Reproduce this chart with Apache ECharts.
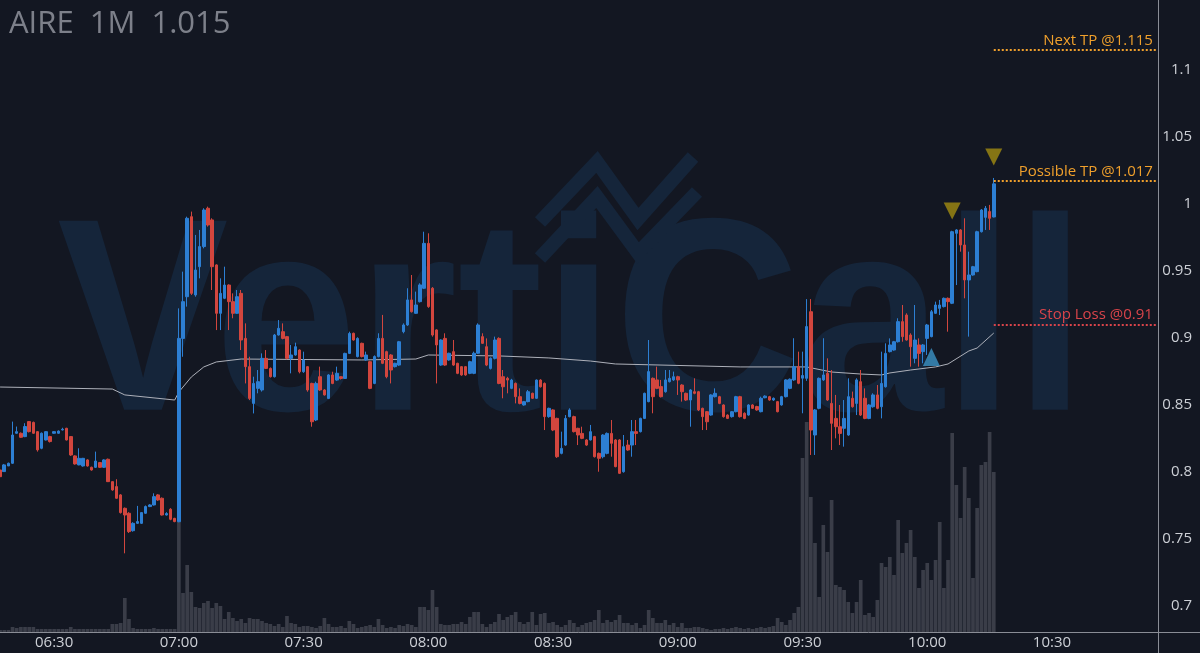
<!DOCTYPE html>
<html><head><meta charset="utf-8">
<script src="https://cdn.jsdelivr.net/npm/echarts@6/dist/echarts.min.js"></script>
<style>html,body{margin:0;padding:0;background:#131722;}#c{width:1200px;height:653px;}</style>
</head><body><div id="c"></div>
<script>
// ---- categories: one per minute, 06:17 .. 10:55
const startMinute = 6 * 60 + 17, endMinute = 10 * 60 + 55;
const categories = [];
for (let m = startMinute; m <= endMinute; m++) {
  categories.push(String(Math.floor(m / 60)).padStart(2, '0') + ':' + String(m % 60).padStart(2, '0'));
}
const priceTicks = [0.7, 0.75, 0.8, 0.85, 0.9, 0.95, 1, 1.05, 1.1];
const title = 'AIRE  1M  1.015';

// ---- candles [open, close, low, high], from 06:17
const candles = [
[.8015,.7965,.7960,.8030],[.8003,.8053,.8000,.8060],[.8045,.8065,.8045,.8070],[.8065,.8276,.8060,.8376],
[.8289,.8301,.8285,.8339],[.8289,.8259,.8255,.8295],[.8264,.8339,.8260,.8364],[.8376,.8301,.8295,.8380],
[.8370,.8289,.8285,.8376],[.8301,.8165,.8152,.8305],[.8177,.8289,.8170,.8295],[.8239,.8301,.8235,.8305],
[.8264,.8227,.8220,.8270],[.8289,.8301,.8285,.8305],[.8289,.8305,.8285,.8310],[.8314,.8319,.8310,.8330],
[.8326,.8239,.8235,.8330],[.8264,.8127,.8120,.8268],[.8120,.8060,.8055,.8125],[.8053,.8102,.8050,.8177],
[.8045,.8102,.8040,.8105],[.8090,.8045,.8040,.8095],[.8035,.8015,.8010,.8040],[.8035,.8082,.8030,.8152],
[.8070,.8035,.8030,.8075],[.8035,.8090,.8030,.8095],[.8095,.7928,.7925,.8100],[.7928,.7866,.7860,.7930],
[.7891,.7804,.7800,.7946],[.7829,.7697,.7690,.7835],[.7729,.7679,.7393,.7735],[.7692,.7555,.7545,.7700],
[.7562,.7617,.7555,.7625],[.7617,.7630,.7612,.7747],[.7617,.7697,.7612,.7700],[.7692,.7742,.7688,.7750],
[.7742,.7754,.7738,.7760],[.7754,.7816,.7750,.7841],[.7829,.7791,.7785,.7835],[.7804,.7679,.7675,.7810],
[.7679,.7690,.7675,.7700],[.7722,.7647,.7640,.7730],[.7654,.7630,.7625,.7658],
// 07:00
[.7629,.8997,.7625,.9221],[.8997,.9271,.8860,.9495],[.9308,.9893,.9234,.9905],[.9905,.9333,.9321,.9943],
[.9321,.9507,.9308,.9769],[.9532,.9682,.9445,.9806],[.9682,.9955,.9669,.9968],[.9968,.9843,.9831,.9980],
[.9881,.9532,.9358,.9893],[.9545,.9184,.9059,.9550],[.9184,.9333,.9059,.9445],[.9296,.9395,.9290,.9532],
[.9395,.9271,.9059,.9400],[.9271,.9184,.9147,.9333],[.9184,.9308,.9180,.9358],[.9333,.8985,.8910,.9358],
[.8997,.8786,.8661,.9109],[.8786,.8549,.8537,.8860],[.8512,.8661,.8437,.8711],[.8624,.8674,.8587,.8761],
[.8612,.8848,.8600,.8885],[.8848,.8773,.8768,.8910],[.8773,.8711,.8705,.8780],[.8711,.9022,.8705,.9030],
[.9022,.9072,.9018,.9134],[.9047,.8997,.8990,.9109],[.9010,.8848,.8840,.9015],[.8848,.8873,.8736,.8948],
[.8873,.8935,.8868,.8965],[.8910,.8748,.8736,.8915],[.8748,.8836,.8740,.8898],[.8786,.8612,.8599,.8790],
[.8661,.8375,.8338,.8666],[.8388,.8661,.8380,.8674],[.8711,.8612,.8605,.8786],[.8612,.8575,.8570,.8618],
[.8549,.8724,.8544,.8730],[.8724,.8661,.8655,.8748],[.8686,.8736,.8680,.8786],[.8711,.8698,.8690,.8715],
[.8698,.8885,.8695,.8890],[.8885,.9034,.8880,.9047],[.9035,.8985,.8980,.9040],[.8861,.8997,.8855,.9005],
[.8960,.8861,.8855,.8965],[.8836,.8873,.8830,.8898],[.8823,.8624,.8618,.8830],[.8661,.8861,.8655,.8870],
[.8861,.8997,.8855,.9035],[.8997,.8811,.8805,.9172],[.8898,.8711,.8699,.8905],[.8873,.8761,.8661,.8880],
[.8786,.8811,.8780,.8815],[.8798,.8972,.8792,.8978],[.9047,.9097,.9035,.9109],[.9097,.9284,.9090,.9371],
[.9284,.9196,.9190,.9470],[.9184,.9246,.9180,.9346],[.9271,.9396,.9265,.9408],[.9371,.9706,.9365,.9793],
[.9706,.9234,.9225,.9781],[.9371,.9022,.9010,.9380],[.9060,.8948,.8661,.9065],[.8798,.8985,.8792,.8990],
[.8997,.8798,.8792,.9035],[.8836,.8886,.8830,.8890],[.8898,.8798,.8792,.8985],[.8811,.8736,.8730,.8815],
[.8786,.8724,.8718,.8790],[.8786,.8724,.8718,.8790],[.8736,.8823,.8730,.8830],[.8736,.8886,.8730,.8898],
[.8886,.9097,.8880,.9109],[.9010,.8960,.8955,.9035],[.8935,.8798,.8790,.8997],[.8773,.8848,.8765,.8855],
[.8848,.8985,.8840,.9010],[.8997,.8661,.8655,.9005],[.8711,.8636,.8550,.8761],[.8699,.8686,.8587,.8710],
[.8624,.8686,.8618,.8695],[.8661,.8562,.8512,.8668],[.8562,.8512,.8505,.8624],[.8500,.8525,.8495,.8530],
[.8525,.8599,.8520,.8612],[.8587,.8550,.8545,.8592],[.8550,.8686,.8545,.8690],[.8686,.8636,.8630,.8692],
[.8661,.8413,.8313,.8668],[.8413,.8475,.8405,.8480],[.8463,.8313,.8305,.8468],[.8400,.8114,.8105,.8405],
[.8139,.8176,.8132,.8301],[.8201,.8400,.8195,.8425],[.8413,.8463,.8408,.8475],[.8413,.8301,.8295,.8420],
[.8326,.8276,.8201,.8330],[.8288,.8251,.8245,.8338],[.8239,.8201,.8195,.8245],[.8239,.8301,.8235,.8351],
[.8264,.8114,.8108,.8270],[.8139,.8102,.8002,.8145],[.8114,.8276,.8102,.8282],[.8139,.8288,.8132,.8295],
[.8288,.8214,.8114,.8388],[.8239,.8040,.8035,.8245],[.8239,.7990,.7985,.8245],[.8002,.8189,.7995,.8276],
[.8201,.8164,.8158,.8239],[.8201,.8301,.8114,.8388],[.8301,.8288,.8201,.8388],[.8301,.8400,.8295,.8405],
[.8400,.8587,.8395,.8592],[.8525,.8749,.8520,.8985],[.8699,.8562,.8438,.8705],[.8687,.8624,.8618,.8786],
[.8637,.8562,.8556,.8687],[.8599,.8687,.8592,.8761],[.8674,.8699,.8668,.8761],[.8687,.8711,.8680,.8749],
[.8711,.8687,.8575,.8718],[.8649,.8599,.8525,.8655],[.8587,.8537,.8530,.8592],[.8537,.8612,.8338,.8618],
[.8599,.8587,.8580,.8699],[.8599,.8463,.8455,.8605],[.8475,.8413,.8313,.8480],[.8450,.8375,.8313,.8455],
[.8425,.8575,.8420,.8580],[.8562,.8587,.8556,.8624],[.8562,.8512,.8506,.8568],[.8500,.8413,.8406,.8505],
[.8425,.8400,.8395,.8430],[.8413,.8450,.8406,.8455],[.8450,.8562,.8445,.8568],[.8562,.8413,.8406,.8568],
[.8438,.8400,.8394,.8445],[.8425,.8500,.8420,.8506],[.8500,.8475,.8470,.8506],[.8488,.8463,.8457,.8494],
[.8450,.8550,.8445,.8562],[.8554,.8566,.8550,.8572],[.8562,.8537,.8532,.8568],[.8537,.8550,.8530,.8556],
[.8525,.8450,.8445,.8530],[.8500,.8562,.8495,.8568],[.8562,.8687,.8556,.8692],[.8624,.8692,.8618,.8698],
[.8687,.8786,.8680,.8998],[.8786,.8662,.8655,.8898],[.8700,.8720,.8438,.8898],[.8699,.9085,.8680,.9290],
[.9196,.8313,.8127,.9290],[.8276,.8463,.8127,.8470],[.8475,.8699,.8468,.8705],[.8687,.8724,.8680,.8998],
[.8736,.8537,.8530,.8848],[.8512,.8363,.8164,.8761],[.8400,.8338,.8251,.8575],[.8338,.8288,.8201,.8500],
[.8326,.8400,.8189,.8537],[.8276,.8562,.8270,.8699],[.8550,.8487,.8480,.8600],[.8512,.8687,.8425,.8699],
[.8674,.8425,.8418,.8761],[.8550,.8400,.8394,.8624],[.8400,.8500,.8394,.8506],[.8487,.8575,.8480,.8587],
[.8575,.8475,.8468,.8649],[.8487,.8661,.8400,.8898],[.8636,.8885,.8630,.8960],[.8898,.8948,.8892,.8997],
[.8910,.8972,.8905,.8978],[.8972,.9122,.8966,.9147],[.9122,.9010,.8972,.9246],[.9171,.8985,.8980,.9184],
[.9022,.8935,.8786,.9035],[.8848,.8985,.8811,.9246],[.8948,.8885,.8786,.8997],[.8898,.8948,.8811,.8955],
[.8997,.9097,.8873,.9105],[.9010,.9196,.9005,.9209],[.9184,.9246,.9180,.9271],[.9221,.9246,.9171,.9284],
[.9234,.9296,.9228,.9302],[.9296,.9271,.9047,.9302],[.9259,.9793,.9253,.9800],[.9781,.9806,.9395,.9812],
[.9806,.9694,.9644,.9812],[.9694,.9433,.9296,.9893],[.9433,.9470,.9010,.9644],[.9470,.9532,.9465,.9538],
[.9495,.9793,.9490,.9800],[.9793,.9955,.9787,.9962],[.9900,.9968,.9806,.9985],[.9943,.9893,.9806,.9993],
[.9903,1.0150,.9900,1.0194]
];

// ---- volume (thousands), from 06:17
const volumes = [
2,2,2,5,4,5,5,5,5,3,3,3,3,3,3,3,3,5,3,3,3,3,3,3,3,3,3,8,8,9,34,13,4,3,3,3,3,4,3,3,3,3,3,
110,39,67,40,25,24,29,31,24,29,26,13,20,14,11,13,9,14,13,13,11,9,8,6,8,5,16,9,8,5,
6,6,5,4,6,14,8,5,5,6,4,11,8,4,5,6,7,5,13,7,4,5,4,7,6,8,7,5,25,25,22,42,25,8,
7,7,8,8,10,8,15,20,20,8,5,8,10,18,12,15,17,20,10,8,10,20,7,18,19,9,10,7,5,7,
12,9,5,7,9,10,12,22,9,12,10,12,17,9,9,7,9,4,7,22,14,9,9,12,7,9,5,9,4,4,
5,5,4,3,2,3,3,4,3,4,5,4,3,4,3,4,5,4,5,6,14,10,7,12,19,25,174,210,135,89,
35,107,80,132,47,45,42,30,19,30,52,17,19,15,32,69,65,75,57,112,79,89,102,75,44,62,69,52,72,110,
44,72,199,147,114,165,134,54,124,167,170,200,160
];

// ---- VWAP line (read points)
const vwapPoints = [
['06:17',.8634],['06:44',.8619],['06:47',.8575],['06:59',.8537],['07:00',.8597],['07:03',.8709],
['07:06',.8784],['07:09',.8821],['07:15',.8843],['07:44',.8836],['07:57',.8843],['08:00',.8873],
['08:17',.8866],['08:29',.8851],['08:39',.8828],['08:45',.8806],['09:15',.8784],['09:31',.8784],
['09:37',.8746],['09:44',.8731],['09:49',.8724],['09:51',.8739],['09:56',.8761],['10:02',.8784],
['10:05',.8806],['10:10',.8903],['10:12',.8925],['10:16',.9037]
];

const buySignals = [['10:01', 0.8858]];
const sellSignals = [['10:06', 0.9948], ['10:16', 1.0351]];
const levelStart = '10:16', levelEnd = '10:55';
const levels = [
  { name: 'Next TP @1.115', value: 1.115, color: '#f0a02c' },
  { name: 'Possible TP @1.017', value: 1.017, color: '#f0a02c' },
  { name: 'Stop Loss @0.91', value: 0.91, color: '#d9444a' }
];

const UP = '#2d7fd3', DOWN = '#d2463e';
const chart = echarts.init(document.getElementById('c'), null, { renderer: 'canvas' });

const option = {
  backgroundColor: '#131722',
  animation: false,
  textStyle: { fontFamily: '"Open Sans", sans-serif' },
  grid: { left: -2, right: 42, top: 0, bottom: 21, containLabel: false, outerBoundsMode: 'none' },
  xAxis: {
    type: 'category', data: categories, boundaryGap: true,
    axisLine: { show: true, lineStyle: { color: '#8a8d96', width: 1 } },
    axisTick: { show: false },
    axisLabel: {
      color: '#cdd0d6', fontSize: 15, margin: 3, fontFamily: '"Open Sans", sans-serif',
      interval: (idx, val) => val.endsWith(':00') || val.endsWith(':30')
    },
    splitLine: { show: false }
  },
  yAxis: [
    {
      type: 'value', position: 'right', min: 0.6806, max: 1.1522, scale: true,
      axisLine: { show: true, lineStyle: { color: '#8a8d96', width: 1 } },
      axisTick: { show: false },
      splitLine: { show: false },
      axisLabel: {
        color: '#cdd0d6', fontSize: 15, align: 'right', margin: 34,
        fontFamily: '"Open Sans", sans-serif',
        customValues: priceTicks,
        formatter: v => String(parseFloat((+v).toFixed(3)))
      }
    },
    { type: 'value', min: 0, max: 632, show: false }
  ],
  graphic: [
    { type: 'text', z: 0, silent: true, x: 57, y: 334, scaleX: 0.935, scaleY: 1,
      style: { text: 'VertiCall', font: 'bold 275px "Liberation Sans", Arial, sans-serif',
        fill: '#15253a', textVerticalAlign: 'middle', textAlign: 'left' } },
    { type: 'polyline', z: 0, silent: true,
      shape: { points: [[540, 222], [597, 162], [638, 219], [693, 157]] },
      style: { stroke: '#15253a', lineWidth: 14, fill: null, lineJoin: 'miter' } },
    { type: 'polyline', z: 0, silent: true,
      shape: { points: [[540, 258], [597, 197], [638, 253], [697, 192]] },
      style: { stroke: '#15253a', lineWidth: 14, fill: null, lineJoin: 'miter' } },
    { type: 'text', z: 100, silent: true, x: 9, y: 24,
      style: { text: title, font: '31px "Open Sans", sans-serif', fill: '#7d808a', textVerticalAlign: 'middle' } },
    { type: 'line', z: 100, silent: true, shape: { x1: 1158.5, y1: 632, x2: 1158.5, y2: 653 },
      style: { stroke: '#8a8d96', lineWidth: 1 } },
    { type: 'line', z: 100, silent: true, shape: { x1: 1158, y1: 632.5, x2: 1200, y2: 632.5 },
      style: { stroke: '#8a8d96', lineWidth: 1 } }
  ],
  series: [
    {
      type: 'bar', name: 'Volume', xAxisIndex: 0, yAxisIndex: 1, data: volumes,
      barCategoryGap: '12%', z: 1,
      itemStyle: { color: 'rgba(112,115,126,0.42)' }
    },
    {
      type: 'line', name: 'VWAP', yAxisIndex: 0, data: vwapPoints, symbol: 'none', z: 3,
      lineStyle: { color: '#aeb1ba', width: 1 }
    },
    {
      type: 'candlestick', name: 'AIRE', yAxisIndex: 0, data: candles, barWidth: 3, z: 4,
      itemStyle: { color: UP, color0: DOWN, borderColor: UP, borderColor0: DOWN, borderWidth: 1 },
      markLine: {
        silent: true, symbol: ['none', 'none'], animation: false,
        data: levels.map(l => [
          { coord: [levelStart, l.value], lineStyle: { color: l.color, type: [2, 2], width: 2 },
            label: { show: true, position: 'insideEndTop', formatter: l.name, color: l.color,
              fontSize: 15, distance: [3, 2], fontFamily: '"Open Sans", sans-serif' } },
          { coord: [levelEnd, l.value] }
        ])
      }
    },
    {
      type: 'scatter', name: 'Sell', data: sellSignals, symbol: 'triangle', symbolRotate: 180,
      symbolSize: [17, 17], z: 5, itemStyle: { color: '#a38c12' }
    },
    {
      type: 'scatter', name: 'Buy', data: buySignals, symbol: 'triangle',
      symbolSize: [17, 18], z: 5, itemStyle: { color: '#3a8cbc', opacity: 0.85 }
    }
  ]
};
chart.setOption(option);
</script>
</body></html>
